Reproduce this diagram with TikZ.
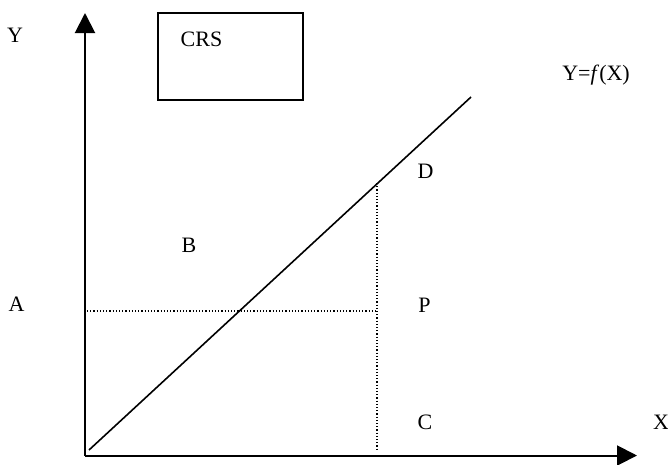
\documentclass[tikz,border=0pt]{standalone}
\usepackage{fontspec}
\setmainfont{Liberation Serif}
\usetikzlibrary{arrows.meta}
\begin{document}
\begin{tikzpicture}[x=1pt,y=-1pt,
  lbl/.style={inner sep=0pt,font=\fontsize{22}{26}\selectfont},
  axis/.style={line width=2pt,-{Triangle[length=20pt,width=20pt]}},
  guide/.style={line width=1.2pt,dotted},
  curve/.style={line width=1.6pt}]
\useasboundingbox (0,0) rectangle (668,464);
\coordinate (O) at (85,455.5);
\coordinate (ytip) at (85,13);
\coordinate (xtip) at (637,455.5);
\coordinate (diag0) at (89,450);
\coordinate (diag1) at (471,97);
\coordinate (Dpt) at (377,183);
\coordinate (Cpt) at (377,450);
\coordinate (Apt) at (87,311);
\coordinate (Ppt) at (377,311);
\draw[axis] (O) -- (ytip);
\draw[axis] (O) -- (xtip);
\draw[curve] (diag0) -- (diag1);
\draw[guide] (Dpt) -- (Cpt);
\draw[guide] (Apt) -- (Ppt);
\node[draw,line width=1.5pt,minimum width=145pt,minimum height=87pt,anchor=north west] (box) at (157,12) {};
\node[lbl] (crs) at (201.5,39.5) {CRS};
\node[lbl] (ylab) at (15,35.5) {Y};
\node[lbl] (alab) at (16.5,304) {A};
\node[lbl] (blab) at (189,245) {B};
\node[lbl] (plab) at (424.5,305) {P};
\node[lbl] (clab) at (425,422) {C};
\node[lbl] (xlab) at (661,422) {X};
\node[lbl] (dlab) at (425.5,171.5) {D};
\node[lbl,anchor=east] (flab) at (630,75) {Y=\textit{f}(X)};
\end{tikzpicture}
\end{document}
